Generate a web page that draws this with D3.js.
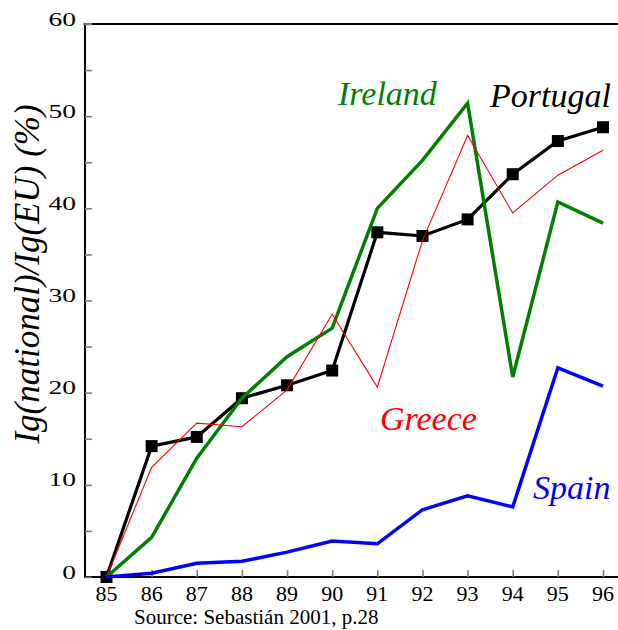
<!DOCTYPE html>
<html>
<head>
<meta charset="utf-8">
<script src="https://cdn.jsdelivr.net/npm/d3@7/dist/d3.min.js"></script>
<style>
  html, body { margin: 0; padding: 0; background: #fff; }
  svg { display: block; }
  svg text { font-family: "Liberation Serif", Tinos, "Times New Roman", Times, "DejaVu Serif", serif; }
</style>
</head>
<body>
<div id="chart"></div>
<script>
/* ── Data ────────────────────────────────────────────────────────────── */
const YEARS    = [85, 86, 87, 88, 89, 90, 91, 92, 93, 94, 95, 96];
const PORTUGAL = [0, 14.2, 15.2, 19.4, 20.8, 22.4, 37.4, 37.0, 38.8, 43.7, 47.3, 48.8];
const IRELAND  = [0, 4.3, 12.9, 19.4, 23.9, 27.0, 40.0, 45.2, 51.4, 21.7, 40.7, 38.4];
const GREECE   = [0, 11.9, 16.7, 16.3, 20.3, 28.5, 20.6, 36.5, 47.9, 39.5, 43.6, 46.3];
const SPAIN    = [0, 0.4, 1.5, 1.7, 2.7, 3.9, 3.6, 7.3, 8.8, 7.6, 22.7, 20.7];
const Y_TICKS  = [0, 10, 20, 30, 40, 50, 60];
const Y_MINOR  = [5, 15, 25, 35, 45, 55];

const W = 618, H = 630;

/* ── Scales ──────────────────────────────────────────────────────────── */
const AX_X = 85;     // left axis position
const x = d3.scaleLinear().domain([85, 96]).range([106.5, 603]);
const y = d3.scaleLinear().domain([0, 60]).range([577, 24]);

const svg = d3.select('#chart').append('svg')
  .attr('width', W).attr('height', H)
  .attr('viewBox', `0 0 ${W} ${H}`);

/* ── Frame (left, top, bottom) ───────────────────────────────────────── */
svg.append('line')
  .attr('x1', AX_X).attr('x2', W).attr('y1', y(60)).attr('y2', y(60))
  .attr('stroke', '#000').attr('stroke-width', 2.2);
svg.append('line')
  .attr('x1', AX_X).attr('x2', W).attr('y1', y(0)).attr('y2', y(0))
  .attr('stroke', '#000').attr('stroke-width', 2);
svg.append('line')
  .attr('x1', AX_X).attr('x2', AX_X).attr('y1', y(60) - 1).attr('y2', y(0) + 1)
  .attr('stroke', '#000').attr('stroke-width', 2);

/* ── Y axis: ticks point inward ──────────────────────────────────────── */
const yAxis = d3.axisRight(y)
  .tickValues(Y_TICKS.concat(Y_MINOR))
  .tickSize(7)
  .tickFormat('');
const yG = svg.append('g').attr('transform', `translate(${AX_X},0)`).call(yAxis);
yG.select('.domain').remove();
yG.selectAll('.tick line').attr('stroke', '#808080').attr('stroke-width', 1.6);
// top tick pokes out to the left
svg.append('line')
  .attr('x1', AX_X - 2).attr('x2', AX_X + 7).attr('y1', y(60)).attr('y2', y(60))
  .attr('stroke', '#808080').attr('stroke-width', 1.6);

// wide, short figures sitting on the tick
svg.append('g').selectAll('text')
  .data(Y_TICKS)
  .join('text')
  .attr('transform', d => `translate(76,${y(d) + 1.5}) scale(1.45,1)`)
  .attr('text-anchor', 'end')
  .attr('font-size', '19px')
  .attr('fill', '#000')
  .text(d => d);

/* ── X axis: ticks point up ──────────────────────────────────────────── */
const xAxis = d3.axisTop(x).tickValues(YEARS).tickSize(7).tickFormat('');
const xG = svg.append('g').attr('transform', `translate(0,${y(0)})`).call(xAxis);
xG.select('.domain').remove();
xG.selectAll('.tick line').attr('stroke', '#808080').attr('stroke-width', 1.6);

svg.append('g').selectAll('text')
  .data(YEARS)
  .join('text')
  .attr('x', d => x(d))
  .attr('y', 601)
  .attr('text-anchor', 'middle')
  .attr('font-size', '22px')
  .attr('fill', '#000')
  .text(d => d);

/* ── Axis title + source ─────────────────────────────────────────────── */
svg.append('text')
  .attr('transform', 'translate(39,274) rotate(-90)')
  .attr('text-anchor', 'middle')
  .attr('font-style', 'italic')
  .attr('font-size', '35px')
  .attr('fill', '#000')
  .text('Ig(national)/Ig(EU) (%)');

svg.append('text')
  .attr('x', 134).attr('y', 624)
  .attr('font-size', '21px')
  .attr('fill', '#000')
  .text('Source: Sebastián 2001, p.28');

/* ── Series ──────────────────────────────────────────────────────────── */
const line = d3.line().x((d, i) => x(YEARS[i])).y(d => y(d));

function drawSeries(values, color, width) {
  svg.append('path')
    .attr('d', line(values))
    .attr('fill', 'none')
    .attr('stroke', color)
    .attr('stroke-width', width)
    .attr('stroke-linejoin', 'miter');
}

drawSeries(PORTUGAL, '#000', 3.2);
const MK = 12;
svg.append('g').selectAll('rect')
  .data(PORTUGAL)
  .join('rect')
  .attr('x', (d, i) => x(YEARS[i]) - MK / 2)
  .attr('y', d => y(d) - MK / 2)
  .attr('width', MK).attr('height', MK)
  .attr('fill', '#000');

drawSeries(IRELAND, '#008000', 3.5);
drawSeries(GREECE,  '#ff0000', 1.1);
drawSeries(SPAIN,   '#0000ff', 3.5);

/* ── Series labels ───────────────────────────────────────────────────── */
const LABELS = [
  { name: 'Ireland',  color: '#008000', x: 338, y: 105 },
  { name: 'Portugal', color: '#000',    x: 490, y: 107 },
  { name: 'Greece',   color: '#ff0000', x: 380, y: 430 },
  { name: 'Spain',    color: '#0000ff', x: 533, y: 499 },
];
svg.append('g').selectAll('text')
  .data(LABELS)
  .join('text')
  .attr('x', d => d.x).attr('y', d => d.y)
  .attr('font-style', 'italic')
  .attr('font-size', '34px')
  .attr('fill', d => d.color)
  .text(d => d.name);
</script>
</body>
</html>
